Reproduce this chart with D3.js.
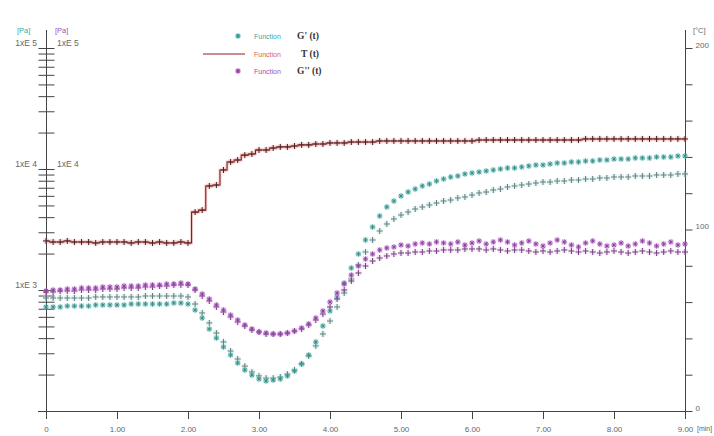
<!DOCTYPE html>
<html><head><meta charset="utf-8">
<script src="https://cdn.jsdelivr.net/npm/d3@7"></script>
<style>body{margin:0;background:#fff;} svg{display:block;font-family:"Liberation Sans",Arial,sans-serif;}</style>
</head><body><svg id="c" width="714" height="436"></svg>
<script>
const time = [0,0.1,0.2,0.3,0.4,0.5,0.6,0.7,0.8,0.9,1.0,1.1,1.2,1.3,1.4,1.5,1.6,1.7,1.8,1.9,2.0,
2.1,2.2,2.3,2.4,2.5,2.6,2.7,2.8,2.9,3.0,3.1,3.2,3.3,3.4,3.5,3.6,3.7,3.8,3.9,4.0,
4.1,4.2,4.3,4.4,4.5,4.6,4.7,4.8,4.9,5.0,5.1,5.2,5.3,5.4,5.5,5.6,5.7,5.8,5.9,6.0,
6.1,6.2,6.3,6.4,6.5,6.6,6.7,6.8,6.9,7.0,7.1,7.2,7.3,7.4,7.5,7.6,7.7,7.8,7.9,8.0,
8.1,8.2,8.3,8.4,8.5,8.6,8.7,8.8,8.9,9.0];

// G' (t) [Pa] - asterisk markers
const gPrimeStar = [724,724,724,737,737,737,737,752,752,752,752,752,766,766,766,766,766,766,781,781,766,
683,587,476,401,338,290,249,218,198,184,
177,180,184,195,214,245,290,372,504,671,
876,1142,1520,1984,2590,3317,4089,4853,5438,5983,
6455,6834,7237,7516,7958,8267,8587,8755,9094,9268,
9446,9627,9810,10000,10190,10190,10390,10590,10790,10790,
11000,11210,11210,11430,11430,11640,11640,11870,11870,12090,
12090,12090,12330,12330,12330,12560,12560,12560,12810,12810];

// G' second measurement [Pa] - plus markers
const gPrimePlus = [859,859,859,859,859,859,859,876,876,876,876,876,876,876,892,892,892,892,892,892,876,
766,646,534,441,372,313,269,235,210,195,
187,187,191,202,218,245,285,345,433,554,
724,945,1233,1609,2061,2590,3074,3512,3863,4168,
4412,4671,4853,5040,5236,5438,5543,5759,5869,6096,
6334,6455,6705,6834,7100,7237,7375,7516,7661,7808,
7808,7958,7958,8111,8111,8267,8267,8426,8426,8587,
8587,8587,8755,8755,8755,8923,8923,8923,9094,9094];

// G'' (t) [Pa] - asterisk markers
const gDoubleStar = [981,1000,1000,1019,1019,1039,1039,1039,1059,1059,1059,1079,1079,1079,1100,1100,1100,1121,1121,1142,1121,
1019,927,843,752,683,621,565,514,476,450,
441,433,433,441,458,485,524,587,671,796,
945,1121,1330,1579,1804,1984,2141,2224,2267,2354,
2310,2400,2446,2400,2493,2446,2400,2493,2354,2446,
2541,2400,2493,2590,2493,2354,2446,2541,2400,2310,
2446,2590,2493,2354,2267,2446,2541,2400,2310,2354,
2446,2310,2400,2541,2446,2310,2400,2493,2354,2400];

// G'' second measurement [Pa] - plus markers
const gDoublePlus = [963,963,981,981,981,1000,1000,1000,1019,1019,1019,1039,1039,1039,1059,1059,1079,1079,1100,1100,1100,
1000,892,811,724,658,598,544,504,467,450,
433,433,433,441,458,476,514,565,633,724,
843,1000,1187,1382,1579,1736,1838,1910,1984,2022,
2022,2061,2061,2101,2101,2141,2141,2141,2183,2183,
2183,2141,2183,2141,2101,2141,2141,2101,2061,2101,
2061,2101,2141,2101,2061,2101,2061,2022,2061,2101,
2061,2022,2061,2101,2061,2022,2061,2101,2061,2061];

// T (t) [°C]
const temperature = [93.7,93.1,93.1,93.7,93.1,93.1,93.1,92.6,93.1,93.1,93.1,93.1,92.6,93.1,93.1,92.6,93.1,92.6,92.6,93.1,92.6,
109.6,110.7,124.0,124.5,132.8,137.2,138.3,141.0,141.6,143.8,
143.8,144.9,145.5,145.5,146.0,146.6,146.6,147.1,147.1,147.7,
147.7,147.7,148.2,148.2,148.2,148.2,148.8,148.8,148.8,148.8,
148.8,148.8,148.8,148.8,148.8,148.8,148.8,148.8,148.8,148.8,
149.3,149.3,149.3,149.3,149.3,149.3,149.3,149.3,149.3,149.3,
149.3,149.3,149.3,149.3,149.3,149.9,149.9,149.9,149.9,149.9,
149.9,149.9,149.9,149.9,149.9,149.9,149.9,149.9,149.9,149.9];

const xTicks = [0,1,2,3,4,5,6,7,8,9];
const pressureMajor = [1e3,1e4,1e5];
const tempTicks = [0,20,40,60,80,100,120,140,160,180,200];

const legendItems = [
  {label:"G' (t)", kind:"star", color:"#2e9f98", textColor:"#3aa9a2"},
  {label:"T (t)", kind:"line", color:"#8c1c1c", textColor:"#d9605a"},
  {label:"G'' (t)", kind:"star", color:"#9b3fae", textColor:"#9b52b5"}
];

const svg = d3.select("#c");
const x = d3.scaleLinear().domain([0,9]).range([46,685]);
const yP = d3.scaleLog().domain([100,1e5]).range([411,48]);
const yT = d3.scaleLinear().domain([0,200]).range([411,48]);

const axisColor = "#444", labelColor = "#666";

// Bottom axis
const gx = svg.append("g").attr("transform","translate(0,411)")
  .call(d3.axisBottom(x).tickValues(xTicks).tickSize(8).tickSizeOuter(0)
    .tickFormat(d => d===0 ? "0" : d.toFixed(2)));
gx.select(".domain").remove();
gx.selectAll(".tick line").attr("stroke",axisColor);
gx.selectAll(".tick text").attr("fill",labelColor).attr("font-size",8).attr("dy","1.3em")
  .attr("font-family","Liberation Sans, Arial, sans-serif");
svg.append("line").attr("x1",38).attr("x2",685).attr("y1",411.5).attr("y2",411.5).attr("stroke",axisColor);
svg.append("text").attr("x",697).attr("y",431).attr("font-size",7).attr("fill",labelColor).text("[min]");

// Left log axis
const minorVals = [];
[100,1000,10000].forEach(b => { for (let k=2;k<=9;k++) minorVals.push(b*k); });
const gy = svg.append("g").attr("transform","translate(46.5,0)")
  .call(d3.axisLeft(yP).tickValues(minorVals.concat(pressureMajor)).tickSize(8).tickFormat(""));
gy.select(".domain").remove();
gy.selectAll(".tick line").attr("x2",-8).attr("x1",8).attr("stroke",axisColor);
svg.append("line").attr("x1",46.5).attr("x2",46.5).attr("y1",30).attr("y2",419).attr("stroke",axisColor);
const fmtE = d => "1xE " + Math.round(Math.log10(d));
svg.selectAll(".plab").data(pressureMajor).join("text")
  .attr("x",37).attr("y",d => yP(d)-2).attr("text-anchor","end").attr("font-size",8.5).attr("fill",labelColor).text(fmtE);
svg.selectAll(".plab2").data([1e4,1e5]).join("text")
  .attr("x",57).attr("y",d => yP(d)-2).attr("font-size",8.5).attr("fill",labelColor).text(fmtE);
svg.append("text").attr("x",17).attr("y",33).attr("font-size",7.5).attr("fill","#3aa9a2").text("[Pa]");
svg.append("text").attr("x",55).attr("y",33).attr("font-size",7.5).attr("fill","#9b52b5").text("[Pa]");

// Right temperature axis
const gr = svg.append("g").attr("transform","translate(685.5,0)")
  .call(d3.axisRight(yT).tickValues(tempTicks).tickSize(7).tickFormat(d => d%100===0 ? d : ""));
gr.select(".domain").remove();
gr.selectAll(".tick line").attr("stroke",axisColor);
gr.selectAll(".tick text").attr("fill",labelColor).attr("font-size",8).attr("dy","-0.1em")
  .attr("font-family","Liberation Sans, Arial, sans-serif");
svg.append("line").attr("x1",685.5).attr("x2",685.5).attr("y1",30).attr("y2",419).attr("stroke",axisColor);
svg.append("text").attr("x",693).attr("y",33).attr("font-size",7.5).attr("fill",labelColor).text("[°C]");

// marker path generators
const starPath = r => { const d = r*0.72; return `M${-r},0H${r}M0,${-r}V${r}M${-d},${-d}L${d},${d}M${-d},${d}L${d},${-d}`; };
const plusPath = r => `M${-r},0H${r}M0,${-r}V${r}`;

function drawSeries(vals, yScale, kind, color, halo) {
  const pts = time.map((t,i) => [x(t), yScale(vals[i])]);
  const g = svg.append("g");
  g.selectAll("circle").data(pts).join("circle")
    .attr("cx",d=>d[0]).attr("cy",d=>d[1]).attr("r",3.2).attr("fill",halo).attr("opacity",0.3);
  g.selectAll("path").data(pts).join("path")
    .attr("transform",d=>`translate(${d[0]},${d[1]})`)
    .attr("d", kind==="star" ? starPath(2.5) : plusPath(3))
    .attr("stroke",color).attr("stroke-width",1).attr("fill","none");
}

// T line
const tLine = d3.line().x((d,i)=>x(time[i])).y(d=>yT(d)).curve(d3.curveStep);
svg.append("path").datum(temperature).attr("d",tLine).attr("fill","none")
  .attr("stroke","#e28a8a").attr("stroke-width",3).attr("opacity",0.4);
svg.append("path").datum(temperature).attr("d",tLine).attr("fill","none")
  .attr("stroke","#8c1c1c").attr("stroke-width",1.1);
drawSeries(temperature, yT, "plus", "#4a2020", "#e8a0a0");

drawSeries(gPrimePlus, yP, "plus", "#607f7d", "#a9dcd8");
drawSeries(gPrimeStar, yP, "star", "#35918c", "#7fd0c8");
drawSeries(gDoublePlus, yP, "plus", "#6e4277", "#e0a8ea");
drawSeries(gDoubleStar, yP, "star", "#9040a5", "#d48fe6");

// Legend
const lg = svg.append("g");
legendItems.forEach((it,i) => {
  const yy = [36,54,71][i];
  if (it.kind === "star") {
    lg.append("circle").attr("cx",238).attr("cy",yy).attr("r",3).attr("fill",it.color).attr("opacity",0.3);
    lg.append("path").attr("transform",`translate(238,${yy})`).attr("d",starPath(2.2))
      .attr("stroke",it.color).attr("stroke-width",1.1);
  } else {
    lg.append("line").attr("x1",203).attr("x2",245).attr("y1",yy).attr("y2",yy).attr("stroke",it.color).attr("stroke-width",1);
  }
  lg.append("text").attr("x",254).attr("y",yy+2.5).attr("font-size",7).attr("fill",it.textColor).text("Function");
  lg.append("text").attr("x",i===1?301:297).attr("y",yy+3).attr("font-size",9.5).attr("font-weight","bold")
    .attr("font-family","Liberation Serif, Times New Roman, serif").attr("fill","#333").text(it.label);
});
</script></body></html>
